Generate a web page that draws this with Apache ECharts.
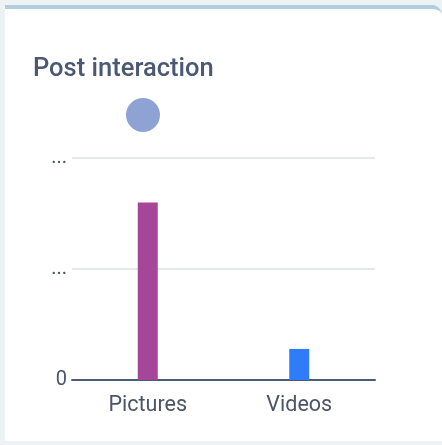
<!DOCTYPE html>
<html>
<head>
<meta charset="utf-8">
<script src="https://cdn.jsdelivr.net/npm/echarts@6/dist/echarts.min.js"></script>
<style>
  html, body { margin: 0; padding: 0; background: #edf2f5; width: 442px; height: 445px; overflow: hidden; }
  .card {
    position: absolute; left: 5px; top: 5px; width: 437px; height: 436px;
    background: #fff; border-top: 4px solid #b2cde0; border-radius: 0 10px 0 0;
    box-sizing: border-box;
  }
  #chart { position: absolute; left: 0; top: 0; width: 442px; height: 445px; }
</style>
</head>
<body>
<div class="card"></div>
<div id="chart"></div>
<script>
// categories and values
const categories = ['Pictures', 'Videos'];
const postValues = [1600, 280];
const barColors = ['#a64698', '#2f7cf8'];
const yTicks = { min: 0, max: 2000, interval: 1000 };

const myChart = echarts.init(document.getElementById('chart'));

const option = {
  title: {
    text: 'Post interaction',
    left: 33,
    top: 57,
    padding: 0,
    textStyle: { fontFamily: 'Roboto', fontSize: 25.5, fontWeight: 500, color: '#4b5874' }
  },
  legend: {
    left: 126,
    top: 98,
    padding: 0,
    icon: 'circle',
    itemWidth: 34,
    itemHeight: 34,
    formatter: () => '',
    data: ['Posts']
  },
  grid: { left: 72, right: 67, top: 158, bottom: 65 },
  xAxis: {
    type: 'category',
    data: categories,
    axisTick: { show: false },
    axisLine: { lineStyle: { color: '#4a5a78', width: 2 } },
    axisLabel: { color: '#4a5568', fontSize: 21.5, margin: 15, fontFamily: 'Roboto' }
  },
  yAxis: {
    type: 'value',
    min: yTicks.min,
    max: yTicks.max,
    interval: yTicks.interval,
    axisLabel: {
      color: '#4a5568', fontSize: 20, margin: 5, fontFamily: 'Roboto',
      width: 20, overflow: 'truncate', ellipsis: '...'
    },
    splitLine: { lineStyle: { color: '#e4e8ee', width: 2 } }
  },
  series: [{
    name: 'Posts',
    type: 'bar',
    barWidth: 20,
    itemStyle: { color: '#8ea2d4' },
    data: postValues.map((v, i) => ({ value: v, itemStyle: { color: barColors[i] } }))
  }]
};

myChart.setOption(option);
</script>
</body>
</html>
